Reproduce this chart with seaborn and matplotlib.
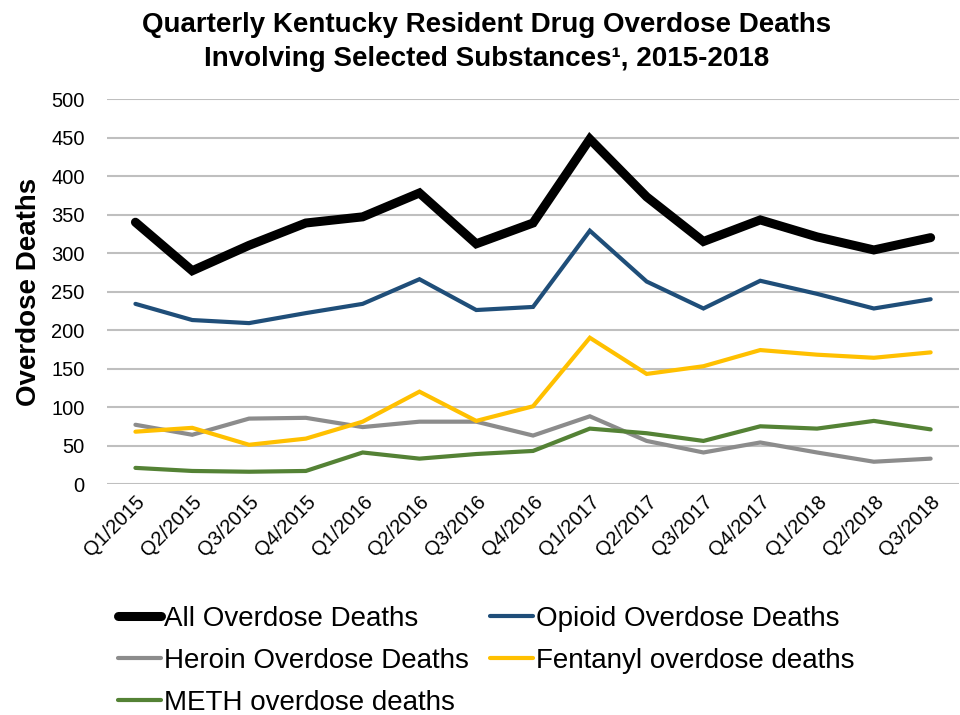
import pandas as pd
import numpy as np
import matplotlib
matplotlib.use("Agg")
import matplotlib.pyplot as plt
import seaborn as sns

# quarters on the x axis
quarters = ["Q1/2015", "Q2/2015", "Q3/2015", "Q4/2015",
            "Q1/2016", "Q2/2016", "Q3/2016", "Q4/2016",
            "Q1/2017", "Q2/2017", "Q3/2017", "Q4/2017",
            "Q1/2018", "Q2/2018", "Q3/2018"]

# values
all_deaths = [340, 277, 310, 339, 347, 378, 312, 339, 448, 373, 315, 343, 321, 304, 320]
opioid_deaths = [234, 213, 209, 222, 234, 266, 226, 230, 329, 263, 228, 264, 247, 228, 240]
heroin_deaths = [77, 64, 85, 86, 74, 81, 81, 63, 88, 56, 41, 54, 41, 29, 33]
fentanyl_deaths = [68, 73, 51, 59, 81, 120, 82, 101, 190, 143, 153, 174, 168, 164, 171]
meth_deaths = [21, 17, 16, 17, 41, 33, 39, 43, 72, 66, 56, 75, 72, 82, 71]

series_names = ["All Overdose Deaths", "Opioid Overdose Deaths",
                "Heroin Overdose Deaths", "Fentanyl overdose deaths",
                "METH overdose deaths"]
series_values = [all_deaths, opioid_deaths, heroin_deaths, fentanyl_deaths, meth_deaths]
colors = ["#000000", "#1F4E79", "#8C8C8C", "#FFC000", "#548235"]
widths = [6.5, 3, 3, 3, 3]

df = pd.DataFrame({
    "quarter": quarters * len(series_names),
    "idx": list(range(len(quarters))) * len(series_names),
    "series": np.repeat(series_names, len(quarters)),
    "deaths": sum(series_values, []),
})

sns.set_theme(style="white")
plt.rcParams["font.family"] = ["Liberation Sans", "DejaVu Sans"]
plt.rcParams.update({"text.color": "black", "axes.labelcolor": "black",
                     "xtick.color": "black", "ytick.color": "black"})

fig = plt.figure(figsize=(9.6, 7.15), dpi=100)
ax = fig.add_axes([0.1115, 0.323, 0.8875, 0.5385])

# draw order: all first so the thin ones sit on top like the original
for name, col, lw in zip(series_names, colors, widths):
    sub = df[df["series"] == name]
    sns.lineplot(data=sub, x="idx", y="deaths", color=col, linewidth=lw,
                 ax=ax, legend=False, solid_capstyle="round",
                 solid_joinstyle="miter")

ax.set_xlim(-0.5, len(quarters) - 0.5)
ax.set_ylim(0, 500)
ax.set_yticks(range(0, 501, 50))
ax.set_xticks(range(len(quarters)))
ax.set_xticklabels(quarters, rotation=45, ha="right", rotation_mode="anchor",
                   fontsize=14.5)
ax.tick_params(axis="y", labelsize=14.5, length=0, pad=16)
ax.tick_params(axis="x", length=0, pad=6)
ax.grid(axis="y", color="#BFBFBF", linewidth=1.5)
ax.set_axisbelow(True)
for s in ax.spines.values():
    s.set_visible(False)
ax.set_xlabel("")
ax.set_ylabel("Overdose Deaths", fontsize=20, fontweight="bold", labelpad=7)

fig.text(0.507, 1 - 12 / 715, "Quarterly Kentucky Resident Drug Overdose Deaths\n"
         "Involving Selected Substances\u00b9, 2015-2018",
         ha="center", va="top", fontsize=20, fontweight="bold",
         linespacing=1.38)

# legend fills column by column, so order the entries to read row-wise
order = [0, 2, 4, 1, 3]
handles = [plt.Line2D([], [], color=colors[i], linewidth=widths[i],
                      solid_capstyle="round") for i in order]
labels = [series_names[i] for i in order]
fig.legend(handles, labels, loc="upper left",
           bbox_to_anchor=(118 / 960, 1 - 606 / 715), ncol=2, frameon=False,
           prop={"size": 20}, handlelength=1.55, handletextpad=0.12,
           columnspacing=0.75, labelspacing=0.57, borderaxespad=0, borderpad=0)

fig.savefig("out.png", dpi=100)
